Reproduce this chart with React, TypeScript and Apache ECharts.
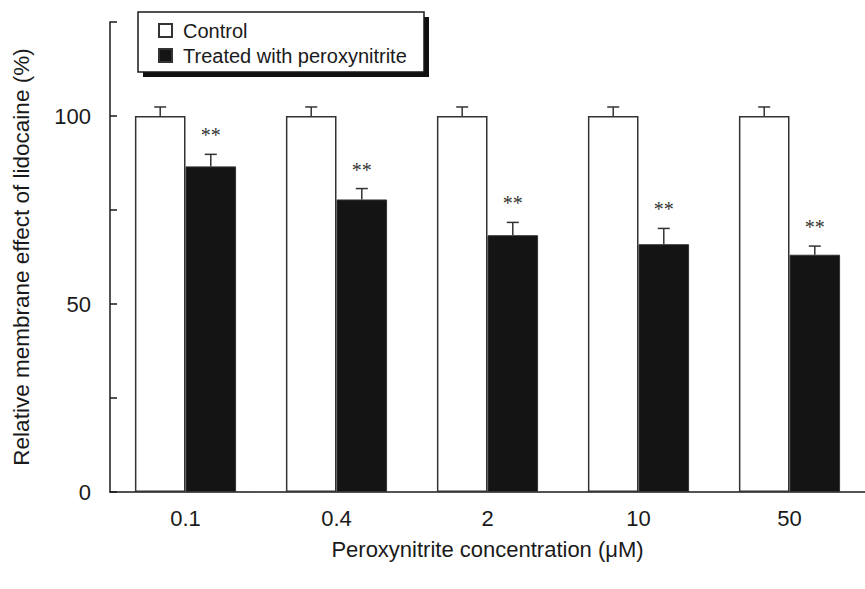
import React, { useEffect, useRef } from "react";
import * as echarts from "echarts";

const categories = ["0.1", "0.4", "2", "10", "50"];
const controlValues = [100, 100, 100, 100, 100];
const controlErrors = [2.4, 2.4, 2.4, 2.4, 2.4];
const treatedValues = [86.6, 77.8, 68.3, 65.9, 63.1];
const treatedErrors = [3.2, 2.9, 3.4, 4.2, 2.3];
const significance = ["**", "**", "**", "**", "**"];
const yLabelValues = [0, 50, 100];

const FONT = "'Liberation Sans', Arial, Helvetica, sans-serif";
const INK = "#1a1a1a";

export default function App() {
  const ref = useRef<HTMLDivElement>(null);

  useEffect(() => {
    if (!ref.current) return;
    const chart = echarts.init(ref.current, null, { renderer: "svg" });

    const errorSeries = (values: number[], errors: number[], offsetIdx: number, stars: string[] | null) => ({
      type: "custom",
      xAxisIndex: 0,
      yAxisIndex: 0,
      z: 5,
      silent: true,
      data: values.map((v, i) => [i, v, errors[i]]),
      renderItem: (params: any, api: any) => {
        const idx = api.value(0);
        const v = api.value(1);
        const e = api.value(2);
        const size = api.size([1, 0]);
        const catW = size[0];
        const barW = catW * 0.335;
        const base = api.coord([idx, v]);
        const xc = base[0] + (offsetIdx === 0 ? -barW / 2 : barW / 2);
        const top = api.coord([idx, v + e]);
        const half = 6;
        const children: any[] = [
          {
            type: "line",
            shape: { x1: xc, y1: base[1], x2: xc, y2: top[1] },
            style: { stroke: "#333", lineWidth: 1.5 },
          },
          {
            type: "line",
            shape: { x1: xc - half, y1: top[1], x2: xc + half, y2: top[1] },
            style: { stroke: "#333", lineWidth: 1.5 },
          },
        ];
        if (stars) {
          children.push({
            type: "text",
            x: xc,
            y: top[1] - 19,
            style: {
              text: stars[idx],
              fontSize: 20,
              fontFamily: "'Liberation Serif', 'Times New Roman', serif",
              fill: "#333",
              align: "center",
              verticalAlign: "middle",
            },
          });
        }
        return { type: "group", children };
      },
    });

    chart.setOption({
      animation: false,
      backgroundColor: "#fff",
      textStyle: { fontFamily: FONT },
      grid: { left: 110, top: 22, width: 759, height: 470, containLabel: false },
      graphic: [
        { type: "rect", z: 0, shape: { x: 143, y: 17, width: 286, height: 60 }, style: { fill: "#111" } },
        {
          type: "rect",
          z: 1,
          shape: { x: 138, y: 12, width: 286, height: 60 },
          style: { fill: "#fff", stroke: INK, lineWidth: 1.5 },
        },
      ],
      legend: {
        z: 10,
        orient: "vertical",
        left: 158,
        top: 20,
        icon: "rect",
        itemWidth: 13,
        itemHeight: 13,
        itemGap: 4,
        padding: 0,
        data: ["Control", "Treated with peroxynitrite"],
        textStyle: { fontSize: 20, color: INK, fontFamily: FONT, lineHeight: 21, padding: [0, 0, 0, 6] },
      },
      xAxis: {
        type: "category",
        data: categories,
        name: "Peroxynitrite concentration (μM)",
        nameLocation: "middle",
        nameGap: 46,
        nameTextStyle: { fontSize: 22, color: INK, fontFamily: FONT },
        axisLine: { lineStyle: { color: INK, width: 1.5 } },
        axisTick: { inside: true, length: 7, lineStyle: { color: INK, width: 1.5 } },
        axisLabel: { fontSize: 22, color: INK, margin: 15, fontFamily: FONT },
      },
      yAxis: {
        type: "value",
        min: 0,
        max: 125,
        interval: 25,
        name: "Relative membrane effect of lidocaine (%)",
        nameLocation: "middle",
        nameGap: 77,
        nameTextStyle: { fontSize: 22.5, color: INK, fontFamily: FONT },
        splitLine: { show: false },
        axisLine: { show: true, lineStyle: { color: INK, width: 1.5 } },
        axisTick: { show: true, inside: true, length: 7, lineStyle: { color: INK, width: 1.5 } },
        axisLabel: {
          fontSize: 22,
          color: INK,
          margin: 19,
          fontFamily: FONT,
          formatter: (v: number) => (yLabelValues.includes(v) ? String(v) : ""),
        },
      },
      series: [
        {
          name: "Control",
          type: "bar",
          data: controlValues,
          barGap: "0%",
          barCategoryGap: "33%",
          itemStyle: { color: "#fff", borderColor: "#333", borderWidth: 1.5 },
        },
        {
          name: "Treated with peroxynitrite",
          type: "bar",
          data: treatedValues,
          barGap: "0%",
          barCategoryGap: "33%",
          itemStyle: { color: "#141414", borderColor: "#333", borderWidth: 1 },
        },
        errorSeries(controlValues, controlErrors, 0, null),
        errorSeries(treatedValues, treatedErrors, 1, significance),
      ],
    });

    return () => chart.dispose();
  }, []);

  return <div ref={ref} style={{ width: 865, height: 589, position: "absolute", left: 0, top: 0 }} />;
}
